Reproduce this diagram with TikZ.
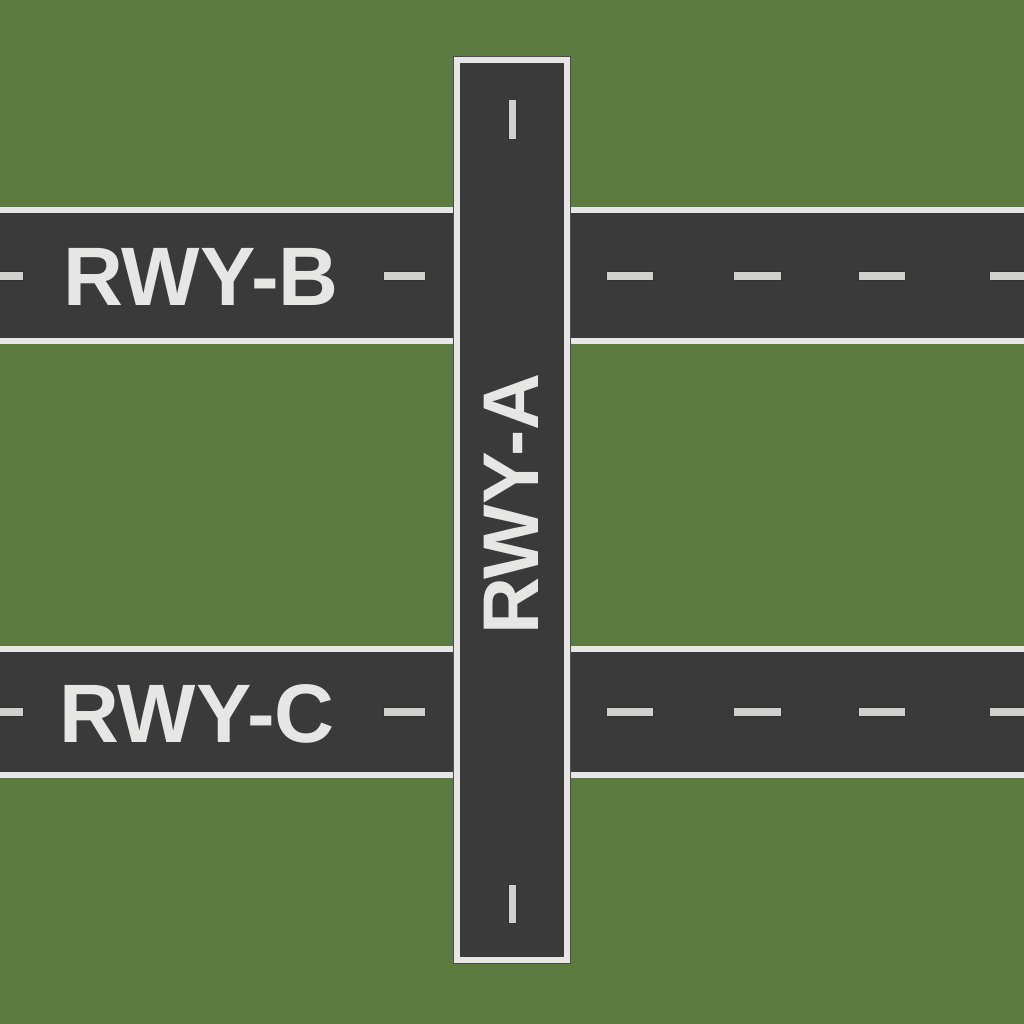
\documentclass[tikz,border=0pt]{standalone}
\usepackage{fontspec}
\setmainfont{Liberation Sans}
\usepackage{tikz}
\definecolor{grass}{RGB}{91,123,64}
\definecolor{tarmac}{RGB}{58,58,58}
\definecolor{rim}{RGB}{230,230,228}
\definecolor{paint}{RGB}{208,208,204}

\begin{document}
\begin{tikzpicture}[x=1pt, y=-1pt,
  edge/.style={fill=rim},
  strip/.style={fill=tarmac},
  stripe/.style={fill=paint, draw=black!80, line width=0.8pt},
  rwylabel/.style={inner sep=0pt, text=rim, font=\fontsize{83}{83}\selectfont\bfseries}]
\useasboundingbox (0,0) rectangle (1024,1024);
\fill[grass] (0,0) rectangle (1024,1024);

% runway B
\fill[strip] (0,207) rectangle (1024,344);
\fill[edge] (0,207) rectangle (1024,213);
\fill[edge] (0,338) rectangle (1024,344);
% runway C
\fill[strip] (0,646) rectangle (1024,778);
\fill[edge] (0,646) rectangle (1024,652);
\fill[edge] (0,772) rectangle (1024,778);

% centre line stripes
\foreach \y in {271,707} {
  \foreach \x/\w in {-5/28, 383/42, 606/47, 733/48, 858/47, 989/40}
    \draw[stripe] (\x,\y) rectangle ++(\w,9);
}

% runway A
\fill[black!70] (453,56) rectangle (571,964);
\fill[edge] (454,57) rectangle (570,963);
\fill[strip] (460,63) rectangle (564,957);
\draw[stripe] (508,99) rectangle (516,139);
\draw[stripe] (508,884) rectangle (516,923);

\node[rwylabel] (rwyb) at (201,277) {RWY-B};
\node[rwylabel] (rwyc) at (197,714) {RWY-C};
\node[rwylabel, rotate=90, font=\fontsize{79}{79}\selectfont\bfseries] (rwya) at (511,504) {RWY-A};
\end{tikzpicture}
\end{document}
